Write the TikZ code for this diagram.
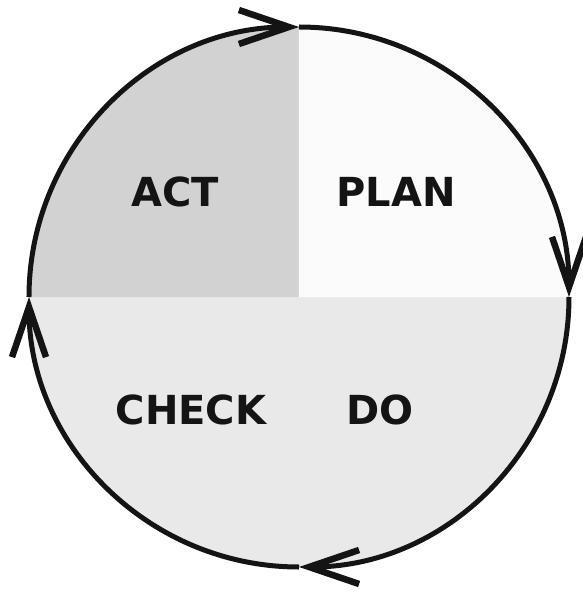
\documentclass[tikz,border=0pt]{standalone}
\usepackage{fontspec}
\setsansfont{DejaVu Sans}
\usetikzlibrary{arrows.meta}
\definecolor{cInk}{HTML}{141414}
\definecolor{cAct}{HTML}{D2D2D2}
\definecolor{cLow}{HTML}{E9E9E9}
\definecolor{cPlan}{HTML}{FBFBFB}

\begin{document}
\begin{tikzpicture}[
  x=1pt, y=1pt,
  >={Straight Barb[length=50pt, width=34pt, line width=6.5pt]},
  phase/.style={font=\sffamily\bfseries\fontsize{40}{40}\selectfont, text=cInk, inner sep=0pt},
  cycle/.style={->, draw=cInk, line width=5pt},
  node distance=6mm and 9mm]

\def\R{270}
\useasboundingbox (-299,-295) rectangle (284,297);

% ---------- quadrant shading ----------
\fill[cLow] (0,0) circle[radius=\R];
\fill[cAct] (0,0) -- (180:\R) arc[start angle=180, end angle=90, radius=\R] -- cycle;
\fill[cPlan] (0,0) -- (90:\R) arc[start angle=90, end angle=0, radius=\R] -- cycle;

% ---------- phases ----------
\node[phase] (act) at (-124,105) {ACT};
\node[phase] (plan) at (97,105) {PLAN};
\node[phase] (do) at (81,-113) {DO};
\node[phase] (check) at (-108,-113) {CHECK};

% ---------- cycle (clockwise) ----------
\draw[cycle] (180:\R) arc[start angle=180, end angle=90, radius=\R];
\draw[cycle] (90:\R) arc[start angle=90, end angle=0, radius=\R];
\draw[cycle] (0:\R) arc[start angle=0, end angle=-90, radius=\R];
\draw[cycle] (-90:\R) arc[start angle=-90, end angle=-180, radius=\R];
\end{tikzpicture}
\end{document}
